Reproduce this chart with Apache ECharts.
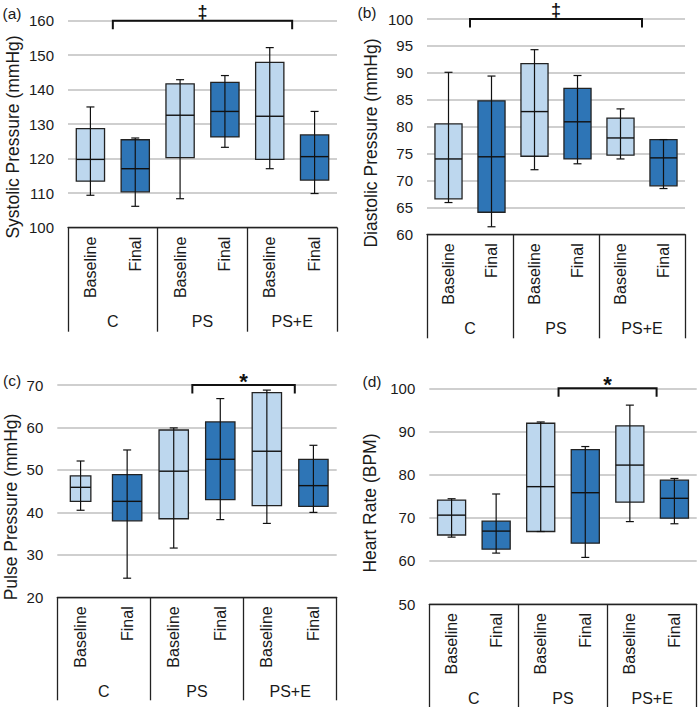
<!DOCTYPE html>
<html><head><meta charset="utf-8">
<script src="https://cdn.jsdelivr.net/npm/echarts@6/dist/echarts.min.js"></script>
<style>html,body{margin:0;padding:0;background:#fff}#c{width:700px;height:710px}</style>
</head><body><div id="c"></div>
<script>
// ---------- data ----------
const conditions = ['Baseline', 'Final', 'Baseline', 'Final', 'Baseline', 'Final'];
const groups = ['C', 'PS', 'PS+E'];
// each row: [min, Q1, median, Q3, max]
const systolic = [
  [109.4, 113.5, 119.8, 128.7, 135.0],
  [106.2, 110.4, 117.1, 125.5, 126.0],
  [108.4, 120.3, 132.6, 141.7, 142.9],
  [123.3, 126.3, 133.7, 142.1, 144.1],
  [117.1, 119.8, 132.3, 147.9, 152.2],
  [109.9, 113.8, 120.6, 126.9, 133.7]
];
const diastolic = [
  [65.9, 66.6, 74.0, 80.5, 90.1],
  [61.4, 64.1, 74.4, 84.8, 89.4],
  [72.0, 74.5, 82.8, 91.7, 94.3],
  [73.1, 74.0, 80.9, 87.1, 89.5],
  [74.0, 74.7, 77.9, 81.6, 83.3],
  [68.5, 69.0, 74.2, 77.6, 77.6]
];
const pulse = [
  [40.5, 42.6, 45.9, 48.6, 52.1],
  [24.5, 38.0, 42.6, 48.9, 54.7],
  [31.6, 38.5, 49.7, 59.4, 59.9],
  [38.3, 43.0, 52.5, 61.3, 66.8],
  [37.4, 41.6, 54.4, 68.2, 68.8],
  [40.0, 41.4, 46.3, 52.5, 55.8]
];
const heartRate = [
  [65.5, 66.0, 70.6, 74.1, 74.4],
  [61.8, 62.7, 66.9, 69.2, 75.5],
  [66.8, 66.8, 77.2, 91.9, 92.2],
  [60.8, 64.1, 75.8, 85.8, 86.5],
  [69.1, 73.6, 82.2, 91.3, 96.1],
  [68.6, 69.9, 74.5, 78.7, 79.1]
];
const yTitles = ['Systolic Pressure (mmHg)', 'Diastolic Pressure (mmHg)', 'Pulse Pressure (mmHg)', 'Heart Rate (BPM)'];
const panelTags = ['(a)', '(b)', '(c)', '(d)'];
// [min, max, interval]
const yScales = [[100, 160, 10], [60, 100, 5], [20, 70, 10], [50, 100, 10]];
// significance brackets: [from category, to category, marker]
const brackets = [[0.5, 4.5, '\u2021'], [0.5, 4.5, '\u2021'], [2.4, 4.6, '*'], [2.4, 4.6, '*']];

// ---------- layout / style ----------
const panelsData = [systolic, diastolic, pulse, heartRate];
const layout = [
  {grid: {left: 68, top: 20.7, width: 269, height: 207}, tick: 104, title: [13, 137], tag: [12, 13]},
  {grid: {left: 427, top: 19, width: 258, height: 215.3}, tick: 104, title: [371, 143], tag: [367, 12]},
  {grid: {left: 57.3, top: 385, width: 279.4, height: 212.3}, tick: 103, title: [11, 507], tag: [12, 380]},
  {grid: {left: 429.3, top: 388.3, width: 267.4, height: 215.7}, tick: 103, title: [370, 503], tag: [372, 381]}
];
const fills = ['#BDD7EE', '#2E75B6'];
const FONT = '"Liberation Sans", Arial, sans-serif';
const INK = '#1a1a1a';

const grids = [], xAxes = [], yAxes = [], series = [], graphics = [];

panelsData.forEach((rows, p) => {
  const L = layout[p];
  grids.push(L.grid);
  // sub-category axis (Baseline / Final)
  xAxes.push({
    gridIndex: p, type: 'category', data: conditions, position: 'bottom', boundaryGap: true,
    axisLine: {show: false}, axisTick: {show: false}, splitLine: {show: false},
    axisLabel: {interval: 0, rotate: 90, margin: 9, fontSize: 16, fontFamily: FONT, color: INK}
  });
  // group axis (C / PS / PS+E) with boxed separators
  xAxes.push({
    gridIndex: p, type: 'category', data: groups, position: 'bottom', boundaryGap: true,
    axisLine: {show: true, onZero: false, lineStyle: {color: '#222', width: 1.3}},
    axisTick: {show: true, interval: 0, alignWithLabel: false, length: L.tick, lineStyle: {color: '#222', width: 1.3}},
    axisLabel: {interval: 0, margin: 86, fontSize: 16, fontFamily: FONT, color: INK},
    splitLine: {show: false}
  });
  const ys = yScales[p];
  yAxes.push({
    gridIndex: p, type: 'value', min: ys[0], max: ys[1], interval: ys[2],
    axisLine: {show: false}, axisTick: {show: false},
    axisLabel: {margin: 14, fontSize: 15, fontFamily: FONT, color: INK},
    splitLine: {show: true, lineStyle: {color: '#bfbfbf', width: 1.5}}
  });
  const narrow = (p === 2);
  series.push({
    type: 'custom', xAxisIndex: p * 2, yAxisIndex: p, clip: false, z: 5,
    data: rows.map((r, i) => [i].concat(r)),
    encode: {x: 0, y: [1, 2, 3, 4, 5]},
    renderItem: function (params, api) {
      const i = api.value(0);
      const lo = api.coord([i, api.value(1)]);
      const q1 = api.coord([i, api.value(2)]);
      const md = api.coord([i, api.value(3)]);
      const q3 = api.coord([i, api.value(4)]);
      const hi = api.coord([i, api.value(5)]);
      const band = api.size([1, 0])[0];
      const w = band * 0.63 * ((narrow && i === 0) ? 0.7 : 1);
      const x = lo[0];
      const cap = 4;
      const ls = {stroke: '#111', lineWidth: 1.2};
      return {type: 'group', children: [
        {type: 'rect', shape: {x: x - w / 2, y: q3[1], width: w, height: q1[1] - q3[1]},
          style: {fill: fills[i % 2], stroke: '#222', lineWidth: 1.3}},
        {type: 'line', shape: {x1: x, y1: hi[1], x2: x, y2: lo[1]}, style: ls},
        {type: 'line', shape: {x1: x - cap, y1: hi[1], x2: x + cap, y2: hi[1]}, style: ls},
        {type: 'line', shape: {x1: x - cap, y1: lo[1], x2: x + cap, y2: lo[1]}, style: ls},
        {type: 'line', shape: {x1: x - w / 2, y1: md[1], x2: x + w / 2, y2: md[1]}, style: {stroke: '#111', lineWidth: 1.4}}
      ]};
    }
  });
  const br = brackets[p];
  series.push({
    type: 'custom', xAxisIndex: p * 2, yAxisIndex: p, clip: false, z: 6,
    data: [[0, ys[1]]], encode: {x: 0, y: 1},
    renderItem: function (params, api) {
      const base = api.coord([0, api.value(1)]);
      const band = api.size([1, 0])[0];
      const x0 = base[0] + br[0] * band, x1 = base[0] + br[1] * band, yy = base[1];
      const star = br[2] === '*';
      return {type: 'group', children: [
        {type: 'polyline', shape: {points: [[x0, yy + 8.5], [x0, yy], [x1, yy], [x1, yy + 8.5]]},
          style: {stroke: '#111', lineWidth: 2, fill: null}},
        {type: 'text', x: (x0 + x1) / 2, y: star ? yy - 4 : yy - 9,
          style: {text: br[2], font: star ? 'bold 22px ' + FONT : 'bold 18px ' + FONT, fill: '#111',
            align: 'center', verticalAlign: 'middle', textAlign: 'center', textVerticalAlign: 'middle'}}
      ]};
    }
  });
  graphics.push({
    type: 'text', x: L.title[0], y: L.title[1], rotation: Math.PI / 2,
    style: {text: yTitles[p], font: '17.5px ' + FONT, fill: INK,
      align: 'center', verticalAlign: 'middle', textAlign: 'center', textVerticalAlign: 'middle'}
  });
  graphics.push({
    type: 'text', x: L.tag[0], y: L.tag[1],
    style: {text: panelTags[p], font: '15.5px ' + FONT, fill: INK,
      align: 'center', verticalAlign: 'middle', textAlign: 'center', textVerticalAlign: 'middle'}
  });
});

const chart = echarts.init(document.getElementById('c'), null, {renderer: 'svg'});
chart.setOption({
  animation: false,
  backgroundColor: '#fff',
  grid: grids, xAxis: xAxes, yAxis: yAxes, series: series, graphic: graphics
});
</script></body></html>
